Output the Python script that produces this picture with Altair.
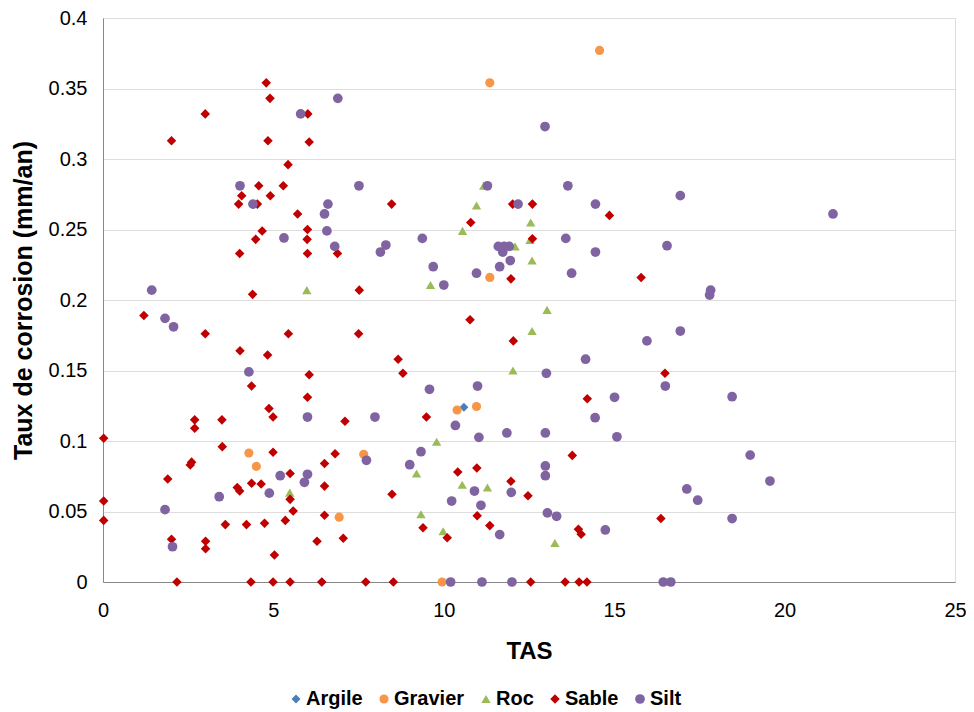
import altair as alt
import pandas as pd

# ---- data ----
argile_x = [6.42, 10.59]
argile_y = [0.0, 0.124]

gravier_x = [14.57, 11.35, 11.35, 10.39, 10.96, 4.28, 7.65, 4.50, 6.93, 9.95]
gravier_y = [0.377, 0.354, 0.216, 0.122, 0.1245, 0.0915, 0.0906, 0.082, 0.046, 0.0]

roc_x = [11.17, 10.96, 12.55, 10.55, 12.53, 12.09, 12.59, 9.61, 5.98, 13.03,
         12.59, 12.03, 9.79, 9.20, 10.54, 11.28, 5.48, 9.33, 9.98, 13.26]
roc_y = [0.281, 0.267, 0.255, 0.249, 0.2426, 0.238, 0.228, 0.2106, 0.207, 0.193,
         0.178, 0.150, 0.0995, 0.077, 0.069, 0.067, 0.0634, 0.048, 0.036, 0.0277]

sable_x = [4.79, 4.90, 3.00, 6.01, 2.01, 4.84, 6.05, 5.43, 4.57, 5.29,
           4.07, 4.91, 3.98, 4.53, 5.71, 4.67, 6.00, 4.48, 5.99, 4.01,
           6.00, 6.88, 4.39, 7.52,
           1.20, 3.00, 5.44, 7.50, 4.02, 4.83, 6.05, 4.36, 6.00, 4.87,
           4.99, 7.10, 2.69, 2.69, 3.49, 0.02, 3.50, 4.99, 6.81, 6.50,
           2.56, 2.60, 1.90, 5.49, 4.36, 4.64, 3.94, 4.01, 6.50, 5.49,
           0.02, 5.58, 0.02, 6.50, 3.59, 4.21, 4.74, 5.35, 2.01, 3.01,
           3.01, 6.28, 7.05, 5.03,
           2.17, 4.34, 4.99, 5.49, 6.42, 7.71, 8.52, 12.55, 13.56, 13.97, 14.20,
           8.47, 12.02, 12.60, 10.79, 14.86, 12.60, 11.97, 15.79, 10.77, 12.04,
           8.66, 8.80, 16.49, 14.21, 9.49, 13.77, 10.41, 10.97, 11.97, 12.47,
           8.48, 10.98, 16.37, 9.39, 10.10, 11.35, 13.95, 14.03]
sable_y = [0.354, 0.343, 0.332, 0.332, 0.313, 0.313, 0.312, 0.296, 0.281, 0.281,
           0.274, 0.274, 0.268, 0.268, 0.261, 0.249, 0.250, 0.243, 0.243, 0.233,
           0.233, 0.233, 0.204, 0.207,
           0.189, 0.176, 0.176, 0.176, 0.164, 0.161, 0.147, 0.139, 0.131, 0.123,
           0.117, 0.114, 0.115, 0.109, 0.115, 0.102, 0.096, 0.092, 0.091, 0.084,
           0.083, 0.085, 0.073, 0.077, 0.070, 0.0695, 0.067, 0.0645, 0.068, 0.0586,
           0.0574, 0.0504, 0.0437, 0.0473, 0.0407, 0.0407, 0.0416, 0.0437, 0.0303, 0.0289,
           0.0236, 0.0289, 0.031, 0.0191,
           0.0, 0.0, 0.0, 0.0, 0.0, 0.0, 0.0, 0.0, 0.0, 0.0, 0.0,
           0.268, 0.268, 0.268, 0.255, 0.260, 0.2435, 0.215, 0.216, 0.186, 0.171,
           0.158, 0.148, 0.148, 0.130, 0.117, 0.0898, 0.078, 0.0809, 0.0714, 0.0612,
           0.0622, 0.047, 0.045, 0.0385, 0.0314, 0.040, 0.0374, 0.0338]

silt_x = [5.80, 6.89, 4.02, 7.51, 4.40, 6.60, 6.50, 6.57, 5.31, 6.80,
          8.14, 8.30, 1.43,
          1.82, 2.07, 4.28, 6.00, 7.98, 7.73, 5.20, 6.00, 5.91, 3.41,
          4.88, 1.82, 2.04,
          12.97, 11.28, 13.64, 12.18, 14.45, 9.37, 13.58, 11.60, 11.77, 11.92,
          11.73, 11.95, 14.45, 9.69, 11.64, 10.96, 13.75, 10.00,
          15.96, 14.16, 13.01, 16.50, 9.58, 10.99, 15.01, 14.44, 10.34, 11.03,
          11.85, 12.98, 15.08, 9.33, 9.00, 12.98, 12.98, 11.98, 10.90, 10.23,
          11.09, 13.04, 13.31, 11.64, 14.74,
          10.20, 11.12, 12.00, 16.44, 16.66,
          16.94, 21.42, 16.55, 17.83, 17.80, 16.94, 18.46, 18.99, 19.57, 17.13,
          17.45, 18.46]
silt_y = [0.332, 0.343, 0.281, 0.281, 0.268, 0.268, 0.261, 0.249, 0.244, 0.238,
          0.234, 0.239, 0.207,
          0.187, 0.181, 0.149, 0.117, 0.117, 0.0863, 0.0754, 0.0764, 0.0707, 0.0605,
          0.063, 0.0513, 0.025,
          0.323, 0.281, 0.281, 0.268, 0.268, 0.2437, 0.2437, 0.238, 0.238, 0.238,
          0.234, 0.228, 0.234, 0.2236, 0.2236, 0.219, 0.219, 0.2106,
          0.171, 0.158, 0.148, 0.139, 0.1367, 0.139, 0.131, 0.1165, 0.111, 0.1026,
          0.1057, 0.1057, 0.103, 0.0924, 0.0832, 0.0823, 0.0754, 0.0636, 0.0645, 0.0574,
          0.0544, 0.049, 0.0466, 0.0336, 0.0369,
          0.0, 0.0, 0.0, 0.0, 0.0,
          0.274, 0.261, 0.2385, 0.207, 0.2035, 0.178, 0.1314, 0.090, 0.0716, 0.066,
          0.058, 0.045]

categories = ["Argile", "Gravier", "Roc", "Sable", "Silt"]
colors = ["#4A7EBB", "#F79646", "#9BBB59", "#C00000", "#8064A2"]
shapes = ["diamond", "circle", "triangle-up", "diamond", "circle"]
sizes = [80, 95, 90, 75, 95]

x_ticks = [0, 5, 10, 15, 20, 25]
y_ticks = [0, 0.05, 0.1, 0.15, 0.2, 0.25, 0.3, 0.35, 0.4]

series = {
    "Argile": (argile_x, argile_y),
    "Gravier": (gravier_x, gravier_y),
    "Roc": (roc_x, roc_y),
    "Sable": (sable_x, sable_y),
    "Silt": (silt_x, silt_y),
}
rows = []
for i, cat in enumerate(categories):
    xs, ys = series[cat]
    for xv, yv in zip(xs, ys):
        rows.append({"TAS": xv, "Taux": yv, "Sol": cat, "order": i})
df = pd.DataFrame(rows)

FONT = "Liberation Sans"

chart = alt.Chart(df).mark_point(filled=True, opacity=1, strokeWidth=0).encode(
    x=alt.X("TAS:Q",
            scale=alt.Scale(domain=[0, 25], nice=False, zero=True),
            axis=alt.Axis(title="TAS", values=x_ticks, grid=False, ticks=False,
                          labelFlush=False, labelPadding=18, titleY=69,
                          titleBaseline="middle", titleFontSize=24, labelFontSize=20)),
    y=alt.Y("Taux:Q",
            scale=alt.Scale(domain=[0, 0.4], nice=False),
            axis=alt.Axis(title="Taux de corrosion (mm/an)", values=y_ticks,
                          grid=True, ticks=False, labelPadding=16, labelFlush=False,
                          labelExpr="datum.value == 0 ? '0' : format(datum.value, '~g')",
                          titleX=-80, titleY=282, titleBaseline="middle",
                          titleFontSize=25, labelFontSize=20)),
    color=alt.Color("Sol:N",
                    scale=alt.Scale(domain=categories, range=colors),
                    legend=alt.Legend(title=None, orient="none", direction="horizontal",
                                      legendX=183, legendY=671, symbolSize=50,
                                      labelFont=FONT, labelFontWeight="bold",
                                      labelColor="#000000",
                                      labelFontSize=20, labelOffset=0,
                                      columnPadding=11, symbolStrokeWidth=0)),
    shape=alt.Shape("Sol:N",
                    scale=alt.Scale(domain=categories, range=shapes)),
    size=alt.Size("Sol:N", scale=alt.Scale(domain=categories, range=sizes), legend=None),
    order=alt.Order("order:Q"),
).properties(
    width=852,
    height=564,
    autosize=alt.AutoSizeParams(type="none"),
    padding={"left": 95, "top": 10, "right": 11, "bottom": 128},
).configure_view(
    stroke="#A6A6A6", strokeWidth=1
).configure_axis(
    labelFont=FONT, titleFont=FONT, labelFontWeight="bold", titleFontWeight="bold",
    labelColor="#000000", titleColor="#000000",
    domainColor="#A6A6A6", gridColor="#8C8C8C", gridWidth=1,
).configure(background="white")

chart.save("out.html", embed_options={"renderer": "svg", "actions": False})
